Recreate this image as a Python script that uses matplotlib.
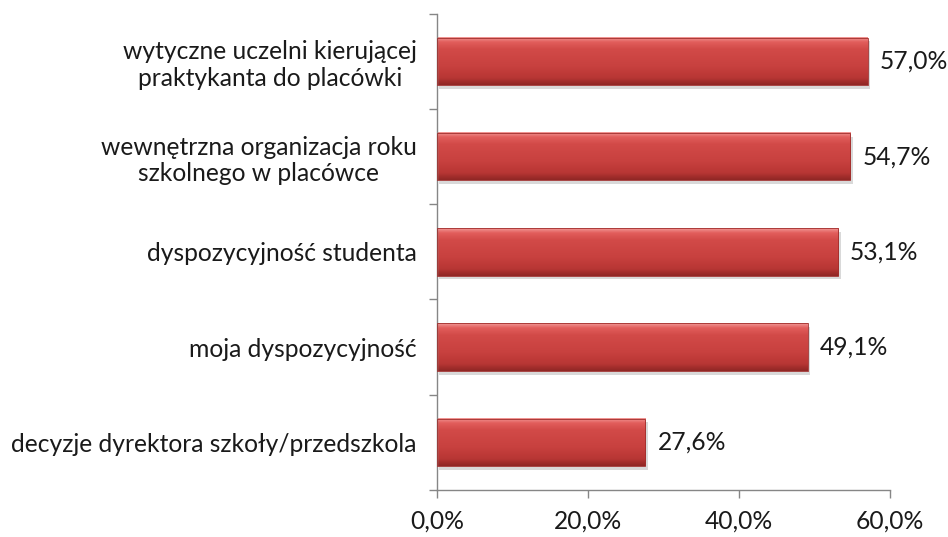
import numpy as np
import matplotlib
matplotlib.use("Agg")
import matplotlib.pyplot as plt
from matplotlib.colors import LinearSegmentedColormap
from matplotlib.patches import Rectangle

categories = [
    "wytyczne uczelni kierującej\npraktykanta do placówki",
    "wewnętrzna organizacja roku\nszkolnego w placówce",
    "dyspozycyjność studenta",
    "moja dyspozycyjność",
    "decyzje dyrektora szkoły/przedszkola",
]
values = [57.0, 54.7, 53.1, 49.1, 27.6]
xticks = [0, 20, 40, 60]
xticklabels = ["0,0%", "20,0%", "40,0%", "60,0%"]

plt.rcParams['font.family'] = ['Lato', 'DejaVu Sans']
FS = 17.7

fig = plt.figure(figsize=(9.48, 5.37), dpi=100)
ax = fig.add_axes([0.461, 0.0875, 0.478, 0.887])

n = len(categories)
ypos = np.arange(n)[::-1]
h = 0.5

cmap = LinearSegmentedColormap.from_list(
    "redgrad",
    [(0.0, "#f29a98"), (0.10, "#e25e5c"), (0.25, "#d24a48"), (0.6, "#c8413f"),
     (0.85, "#b83634"), (1.0, "#8e2624")])
grad = np.linspace(0, 1, 256).reshape(-1, 1)

for y, v in zip(ypos, values):
    ax.add_patch(Rectangle((0.2, y - h / 2 - 0.04), v + 0.15, h, facecolor="#000000",
                           alpha=0.15, edgecolor="none", zorder=1))
    ax.barh([y], [v], height=h, color="none", edgecolor="#a02e2c", linewidth=0.6, zorder=3)
    ax.imshow(grad, cmap=cmap, aspect="auto", extent=(0, v, y - h / 2, y + h / 2),
              origin="upper", zorder=2, interpolation="bicubic")
    ax.text(v + 1.6, y, f"{v:.1f}%".replace(".", ","), va="center", ha="left",
            fontsize=FS, color="#1a1a1a")

ax.set_xlim(0, 60)
ax.set_ylim(-0.5, n - 0.5)
ax.set_xticks(xticks)
ax.set_xticklabels(xticklabels, fontsize=FS, color="#1a1a1a")
ax.set_yticks(ypos)
ax.set_yticklabels(categories, fontsize=FS, color="#1a1a1a", multialignment="center",
                   linespacing=1.2)
ax.tick_params(axis="y", length=0, pad=14.5)
ax.set_yticks(np.arange(-0.5, n, 1.0), minor=True)
ax.tick_params(axis="y", which="minor", length=6, color="#868686", width=1)
ax.tick_params(axis="x", length=6, color="#868686", width=1, pad=8)

for s in ["top", "right"]:
    ax.spines[s].set_visible(False)
for s in ["left", "bottom"]:
    ax.spines[s].set_color("#868686")
    ax.spines[s].set_linewidth(1)

fig.savefig("out.png", dpi=100, facecolor="white")
